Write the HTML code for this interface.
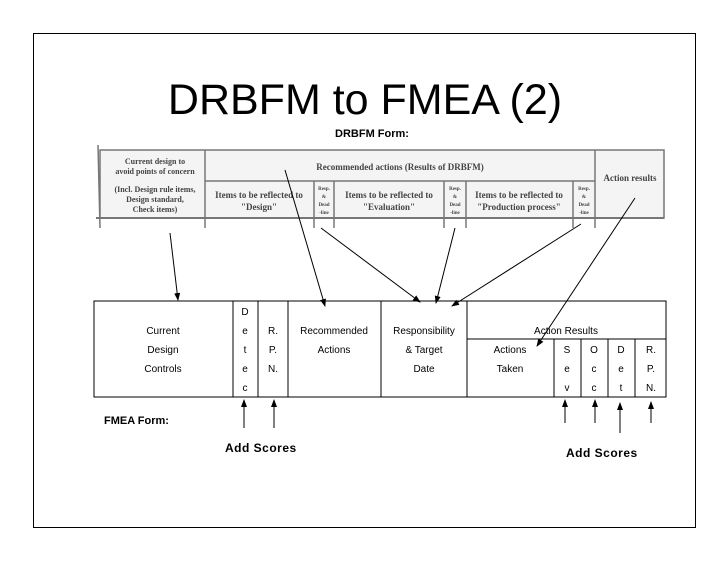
<!DOCTYPE html>
<html><head><meta charset="utf-8"><style>
html,body{margin:0;padding:0;background:#fff}
svg{display:block}
text{font-family:"Liberation Sans",sans-serif}
.s text{font-family:"Liberation Serif",serif;font-weight:bold;fill:#444}
</style></head><body>
<svg width="728" height="563" viewBox="0 0 728 563" xmlns="http://www.w3.org/2000/svg">
<defs><marker id="a" markerWidth="8" markerHeight="8" refX="7" refY="4" orient="auto" markerUnits="userSpaceOnUse"><path d="M0,1 L8,4 L0,7 Z" fill="#000"/></marker></defs>
<rect x="33.5" y="33.5" width="662" height="494" fill="none" stroke="#000" stroke-width="1"/>
<text x="365" y="114" font-size="43" text-anchor="middle">DRBFM to FMEA (2)</text>
<text x="372" y="137" font-size="11" font-weight="bold" text-anchor="middle">DRBFM Form:</text>
<g stroke="#777" stroke-width="1.5" fill="none">
<rect x="100" y="150" width="564" height="68" fill="#f4f4f4"/>
<line x1="98" y1="145" x2="100" y2="228"/>
<line x1="205" y1="150" x2="205" y2="228"/><line x1="595" y1="150" x2="595" y2="228"/>
<line x1="205" y1="181" x2="595" y2="181"/>
<line x1="314" y1="181" x2="314" y2="228"/><line x1="334" y1="181" x2="334" y2="228"/>
<line x1="444" y1="181" x2="444" y2="228"/><line x1="466" y1="181" x2="466" y2="228"/>
<line x1="573" y1="181" x2="573" y2="228"/>
<line x1="96" y1="218" x2="664" y2="218" stroke-width="2"/>
</g>
<g class="s" text-anchor="middle">
<text x="155" y="164" font-size="8">Current design to</text>
<text x="155" y="174" font-size="8">avoid points of concern</text>
<text x="155" y="192" font-size="8">(Incl. Design rule items,</text>
<text x="155" y="202" font-size="8">Design standard,</text>
<text x="155" y="212" font-size="8">Check items)</text>
<text x="400" y="170" font-size="9">Recommended actions (Results of DRBFM)</text>
<text x="630" y="181" font-size="9">Action results</text>
<text x="259" y="198" font-size="9">Items to be reflected to</text>
<text x="259" y="210" font-size="9">"Design"</text>
<text x="389" y="198" font-size="9">Items to be reflected to</text>
<text x="389" y="210" font-size="9">"Evaluation"</text>
<text x="519" y="198" font-size="9">Items to be reflected to</text>
<text x="519" y="210" font-size="9">"Production process"</text>
<text x="324" y="190" font-size="5">Resp.</text><text x="324" y="198" font-size="5">&amp;</text><text x="324" y="206" font-size="5">Dead</text><text x="324" y="214" font-size="5">-line</text>
<text x="455" y="190" font-size="5">Resp.</text><text x="455" y="198" font-size="5">&amp;</text><text x="455" y="206" font-size="5">Dead</text><text x="455" y="214" font-size="5">-line</text>
<text x="584" y="190" font-size="5">Resp.</text><text x="584" y="198" font-size="5">&amp;</text><text x="584" y="206" font-size="5">Dead</text><text x="584" y="214" font-size="5">-line</text>
</g>
<g stroke="#000" stroke-width="1" fill="none">
<rect x="94" y="301" width="572" height="96"/>
<line x1="233" y1="301" x2="233" y2="397"/><line x1="258" y1="301" x2="258" y2="397"/>
<line x1="288" y1="301" x2="288" y2="397"/><line x1="381" y1="301" x2="381" y2="397"/>
<line x1="467" y1="301" x2="467" y2="397"/>
<line x1="467" y1="339" x2="666" y2="339"/>
<line x1="554" y1="339" x2="554" y2="397"/><line x1="581" y1="339" x2="581" y2="397"/>
<line x1="608" y1="339" x2="608" y2="397"/><line x1="635" y1="339" x2="635" y2="397"/>
</g>
<g font-size="10" text-anchor="middle" fill="#000">
<text x="163" y="334">Current</text><text x="163" y="353">Design</text><text x="163" y="372">Controls</text>
<text x="245" y="315">D</text><text x="245" y="334">e</text><text x="245" y="353">t</text><text x="245" y="372">e</text><text x="245" y="391">c</text>
<text x="273" y="334">R.</text><text x="273" y="353">P.</text><text x="273" y="372">N.</text>
<text x="334" y="334">Recommended</text><text x="334" y="353">Actions</text>
<text x="424" y="334">Responsibility</text><text x="424" y="353">&amp; Target</text><text x="424" y="372">Date</text>
<text x="566" y="334">Action Results</text>
<text x="510" y="353">Actions</text><text x="510" y="372">Taken</text>
<text x="567" y="353">S</text><text x="567" y="372">e</text><text x="567" y="391">v</text>
<text x="594" y="353">O</text><text x="594" y="372">c</text><text x="594" y="391">c</text>
<text x="621" y="353">D</text><text x="621" y="372">e</text><text x="621" y="391">t</text>
<text x="651" y="353">R.</text><text x="651" y="372">P.</text><text x="651" y="391">N.</text>
</g>
<text x="104" y="424" font-size="11" font-weight="bold">FMEA Form:</text>
<text x="225" y="452" font-size="12" font-weight="bold" letter-spacing="0.5">Add Scores</text>
<text x="566" y="457" font-size="12" font-weight="bold" letter-spacing="0.5">Add Scores</text>
<g stroke="#000" stroke-width="1" marker-end="url(#a)">
<line x1="170" y1="233" x2="178" y2="300"/>
<line x1="285" y1="170" x2="325" y2="306"/>
<line x1="321" y1="228" x2="420" y2="302"/>
<line x1="455" y1="228" x2="436" y2="303"/>
<line x1="581" y1="224" x2="452" y2="306"/>
<line x1="635" y1="198" x2="537" y2="346"/>
<line x1="244" y1="428" x2="244" y2="400"/>
<line x1="274" y1="428" x2="274" y2="400"/>
<line x1="565" y1="423" x2="565" y2="400"/>
<line x1="595" y1="423" x2="595" y2="400"/>
<line x1="620" y1="433" x2="620" y2="403"/>
<line x1="651" y1="423" x2="651" y2="402"/>
</g>
</svg>
</body></html>
